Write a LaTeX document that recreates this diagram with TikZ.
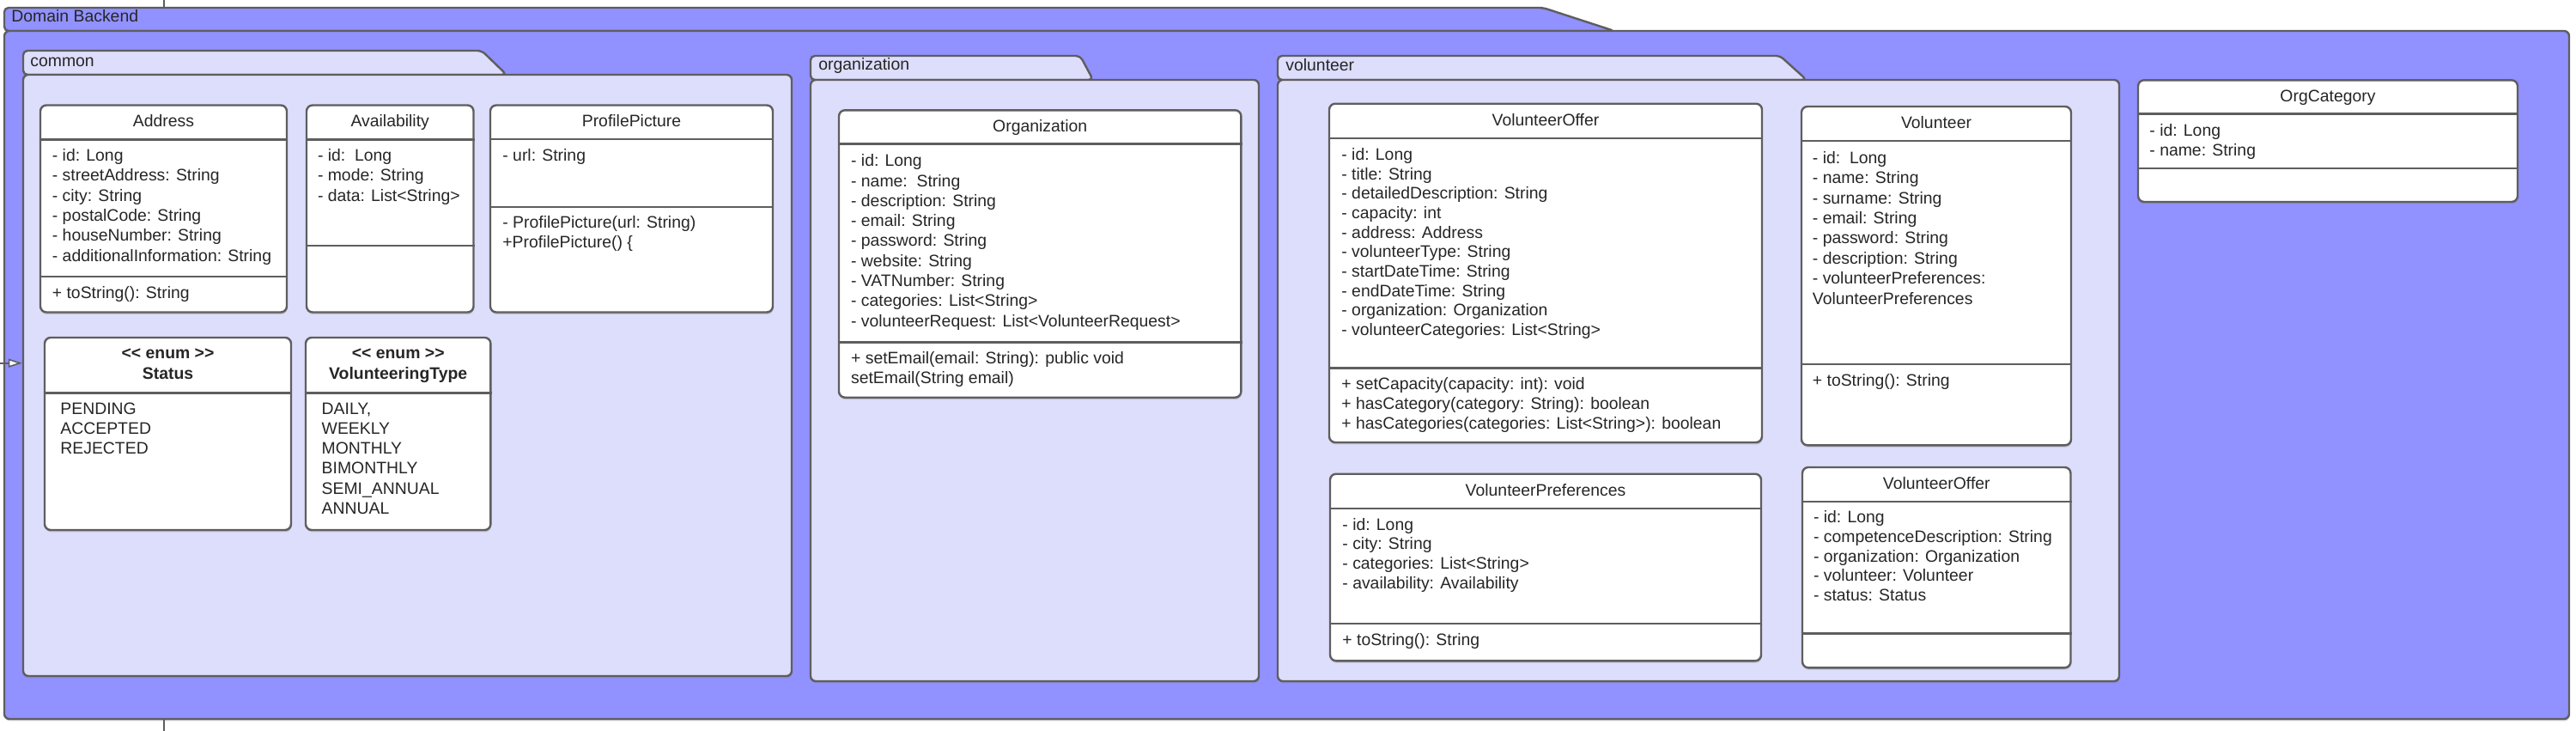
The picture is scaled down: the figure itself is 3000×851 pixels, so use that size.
\documentclass[tikz,border=0pt]{standalone}
\usepackage{fontspec}
\setmainfont{Liberation Sans}
\usetikzlibrary{positioning,fit,shadows,arrows.meta,calc}
\definecolor{umlline}{HTML}{5E5E5E}
\definecolor{umltext}{HTML}{262626}
\definecolor{backendfill}{HTML}{9191FF}
\definecolor{pkgfill}{HTML}{DDDDFC}
\tikzset{
    outer tab/.style={
        draw=umlline,
        fill=backendfill,
        line width=1.2pt,
        rounded corners=2.5pt,
    },
    outer body/.style={
        draw=umlline,
        fill=backendfill,
        line width=1.2pt,
        rounded corners=3pt,
        inner sep=0pt,
        drop shadow={shadow xshift=0.3pt,shadow yshift=-1.2pt,opacity=0.35},
    },
    pkg tab/.style={
        draw=umlline,
        fill=pkgfill,
        line width=1.2pt,
        rounded corners=2.5pt,
    },
    pkg body/.style={
        draw=umlline,
        fill=pkgfill,
        line width=1.2pt,
        rounded corners=3pt,
        inner sep=0pt,
        drop shadow={shadow xshift=0.3pt,shadow yshift=-1.2pt,opacity=0.35},
    },
    pkglabel/.style={
        anchor=base west,
        inner sep=0pt,
        text=umltext,
        font=\fontsize{9.7}{11.6}\selectfont,
    },
    classbox/.style={
        draw=umlline,
        fill=white,
        line width=1.2pt,
        rounded corners=3.5pt,
        inner sep=0pt,
        drop shadow={shadow xshift=0.3pt,shadow yshift=-1.2pt,opacity=0.35},
    },
    sepline/.style={
        draw=umlline,
        line width=1.2pt,
    },
    clsname/.style={
        anchor=base,
        inner sep=0pt,
        text=umltext,
        font=\fontsize{9.7}{11.6}\selectfont,
    },
    enumname/.style={
        clsname,
        font=\fontsize{9.7}{11.6}\selectfont\bfseries,
    },
    member/.style={
        anchor=base west,
        inner sep=0pt,
        text=umltext,
        font=\fontsize{9.7}{11.6}\selectfont,
    },
    assoc/.style={
        draw=umlline,
        line width=0.8pt,
    },
    generalization/.style={
        draw=umlline,
        line width=0.8pt,
        -{Triangle[length=8pt,width=5pt,fill=white]},
    },
}

\begin{document}
\begin{tikzpicture}[x=0.5pt,y=-0.5pt]
    \useasboundingbox (0,0) rectangle (3000,851);
    % Domain Backend
    \path[outer tab] (5,36) -- (5,9) -- (1797,9) -- (1880,36) -- cycle;
    \node[outer body,fit={(5,36)(2992,837)}](backend){};
    \node[pkglabel](backend-l) at (13,25.5) {Domain Backend};
    \coordinate (topfree) at (191,0);
    \coordinate (backendtop) at (191,9);
    \coordinate (bottomfree) at (191,851);
    \draw[assoc] (topfree) -- (backendtop);
    \draw[assoc] (backend.south -| bottomfree) -- (bottomfree);

    % packages
    \path[pkg tab] (27,87) -- (27,59) -- (561,59) -- (590,87) -- cycle;
    \node[pkg body,fit={(27,87)(922,787)}](common){};
    \node[pkglabel](common-l) at (35,77) {common};
    \path[pkg tab] (944,93) -- (944,65) -- (1258,65) -- (1273,93) -- cycle;
    \node[pkg body,fit={(944,93)(1466,793)}](orgpkg){};
    \node[pkglabel](orgpkg-l) at (953,81) {organization};
    \path[pkg tab] (1488,93) -- (1488,65) -- (2073,65) -- (2104,93) -- cycle;
    \node[pkg body,fit={(1488,93)(2468,793)}](volpkg){};
    \node[pkglabel](volpkg-l) at (1497,82) {volunteer};

    \coordinate (genfree) at (0,422.7);
    \draw[generalization] (genfree) -- (genfree -| common.west);

    % common: Address
    \node[classbox,fit={(47,122.5)(334,363.5)}](address){};
    \draw[sepline] (address.west |- 0,162.5) -- (address.east |- 0,162.5);
    \draw[sepline] (address.west |- 0,321.7) -- (address.east |- 0,321.7);
    \node[clsname](address-n) at (address.north |- 0,147) {Address};
    \foreach \m [count=\i] in {- id: Long, - streetAddress: String, - city: String,
        - postalCode: String, - houseNumber: String, - additionalInformation: String}
        \node[member](address-a\i) at (60.5,{187.5+23.3*(\i-1)}) {\m};
    \node[member](address-m1) at (60.5,347) {+ toString(): String};

    % common: Availability
    \node[classbox,fit={(357,122.5)(551.5,363.5)}](availability){};
    \draw[sepline] (availability.west |- 0,162.5) -- (availability.east |- 0,162.5);
    \draw[sepline] (availability.west |- 0,285.7) -- (availability.east |- 0,285.7);
    \node[clsname](availability-n) at (availability.north |- 0,147) {Availability};
    \foreach \m [count=\i] in {- id:\ \ Long, - mode: String, - data: List<String>}
        \node[member](availability-a\i) at (369.6,{187.5+23.3*(\i-1)}) {\m};

    % common: ProfilePicture
    \node[classbox,fit={(571,122.5)(900,363.5)}](profilepic){};
    \draw[sepline] (profilepic.west |- 0,161.7) -- (profilepic.east |- 0,161.7);
    \draw[sepline] (profilepic.west |- 0,240.7) -- (profilepic.east |- 0,240.7);
    \node[clsname](profilepic-n) at (profilepic.north |- 0,147) {ProfilePicture};
    \node[member](profilepic-a1) at (585,187.5) {- url: String};
    \node[member](profilepic-m1) at (585,265.3) {- ProfilePicture(url: String)};
    \node[member](profilepic-m2) at (585,288.6) {+ProfilePicture() \{};

    % common: enums
    \node[classbox,fit={(52,393)(339,617)}](status){};
    \draw[sepline] (status.west |- 0,457.3) -- (status.east |- 0,457.3);
    \node[enumname](status-s) at (status.north |- 0,417.7) {<\kern0pt< enum >\kern0pt>};
    \node[enumname](status-n) at (status.north |- 0,441.3) {Status};
    \foreach \m [count=\i] in {PENDING, ACCEPTED, REJECTED}
        \node[member](status-a\i) at (70,{482+23.3*(\i-1)}) {\m};

    \node[classbox,fit={(356,393)(571.4,617)}](voltype){};
    \draw[sepline] (voltype.west |- 0,457.3) -- (voltype.east |- 0,457.3);
    \node[enumname](voltype-s) at (voltype.north |- 0,417.7) {<\kern0pt< enum >\kern0pt>};
    \node[enumname](voltype-n) at (voltype.north |- 0,441.3) {VolunteeringType};
    \foreach \m [count=\i] in {{DAILY,}, WEEKLY, MONTHLY, BIMONTHLY, SEMI\_ANNUAL, ANNUAL}
        \node[member](voltype-a\i) at (374.3,{482+23.3*(\i-1)}) {\m};

    % organization: Organization
    \node[classbox,fit={(977,128.3)(1445.4,462.7)}](organization){};
    \draw[sepline] (organization.west |- 0,167.3) -- (organization.east |- 0,167.3);
    \draw[sepline] (organization.west |- 0,398.3) -- (organization.east |- 0,398.3);
    \node[clsname](organization-n) at (organization.north |- 0,153) {Organization};
    \foreach \m [count=\i] in {- id: Long, - name:\ \ String, - description: String,
        - email: String, - password: String, - website: String, - VATNumber: String,
        - categories: List<String>, - volunteerRequest: List<VolunteerRequest>}
        \node[member](organization-a\i) at (990.7,{193.7+23.3*(\i-1)}) {\m};
    \foreach \m [count=\i] in {+ setEmail(email: String): public void, setEmail(String email)}
        \node[member](organization-m\i) at (990.7,{423+23.3*(\i-1)}) {\m};

    % volunteer: VolunteerOffer
    \node[classbox,fit={(1548,120.7)(2052,515)}](offer){};
    \draw[sepline] (offer.west |- 0,161) -- (offer.east |- 0,161);
    \draw[sepline] (offer.west |- 0,428.3) -- (offer.east |- 0,428.3);
    \node[clsname](offer-n) at (offer.north |- 0,146.3) {VolunteerOffer};
    \foreach \m [count=\i] in {- id: Long, - title: String, - detailedDescription: String,
        - capacity: int, - address: Address, - volunteerType: String,
        - startDateTime: String, - endDateTime: String,
        - organization: Organization, - volunteerCategories: List<String>}
        \node[member](offer-a\i) at (1562,{186.3+22.7*(\i-1)}) {\m};
    \foreach \m [count=\i] in {+ setCapacity(capacity: int): void,
        + hasCategory(category: String): boolean,
        + hasCategories(categories: List<String>): boolean}
        \node[member](offer-m\i) at (1562,{453+23.3*(\i-1)}) {\m};

    % volunteer: Volunteer
    \node[classbox,fit={(2098,124)(2412,518.3)}](volunteer){};
    \draw[sepline] (volunteer.west |- 0,164) -- (volunteer.east |- 0,164);
    \draw[sepline] (volunteer.west |- 0,424) -- (volunteer.east |- 0,424);
    \node[clsname](volunteer-n) at (volunteer.north |- 0,149.3) {Volunteer};
    \foreach \m [count=\i] in {- id:\ \ Long, - name: String, - surname: String,
        - email: String, - password: String, - description: String,
        - volunteerPreferences:, VolunteerPreferences}
        \node[member](volunteer-a\i) at (2110.5,{190.3+23.4*(\i-1)}) {\m};
    \node[member](volunteer-m1) at (2110.5,449.3) {+ toString(): String};

    % volunteer: VolunteerPreferences
    \node[classbox,fit={(1549,551.7)(2051,769.3)}](prefs){};
    \draw[sepline] (prefs.west |- 0,591.7) -- (prefs.east |- 0,591.7);
    \draw[sepline] (prefs.west |- 0,725.7) -- (prefs.east |- 0,725.7);
    \node[clsname](prefs-n) at (prefs.north |- 0,577) {VolunteerPreferences};
    \foreach \m [count=\i] in {- id: Long, - city: String, - categories: List<String>,
        - availability: Availability}
        \node[member](prefs-a\i) at (1563,{617+22.8*(\i-1)}) {\m};
    \node[member](prefs-m1) at (1563,751) {+ toString(): String};

    % volunteer: second VolunteerOffer
    \node[classbox,fit={(2099,544)(2411.5,777.3)}](offerb){};
    \draw[sepline] (offerb.west |- 0,584) -- (offerb.east |- 0,584);
    \draw[sepline] (offerb.west |- 0,737.3) -- (offerb.east |- 0,737.3);
    \node[clsname](offerb-n) at (offerb.north |- 0,569.3) {VolunteerOffer};
    \foreach \m [count=\i] in {- id: Long, - competenceDescription: String,
        - organization: Organization, - volunteer: Volunteer, - status: Status}
        \node[member](offerb-a\i) at (2111.6,{608.7+22.75*(\i-1)}) {\m};

    % OrgCategory
    \node[classbox,fit={(2490,93.3)(2932,235)}](orgcategory){};
    \draw[sepline] (orgcategory.west |- 0,132.3) -- (orgcategory.east |- 0,132.3);
    \draw[sepline] (orgcategory.west |- 0,195.7) -- (orgcategory.east |- 0,195.7);
    \node[clsname](orgcategory-n) at (orgcategory.north |- 0,118.7) {OrgCategory};
    \foreach \m [count=\i] in {- id: Long, - name: String}
        \node[member](orgcategory-a\i) at (2503,{158+23*(\i-1)}) {\m};
\end{tikzpicture}
\end{document}
